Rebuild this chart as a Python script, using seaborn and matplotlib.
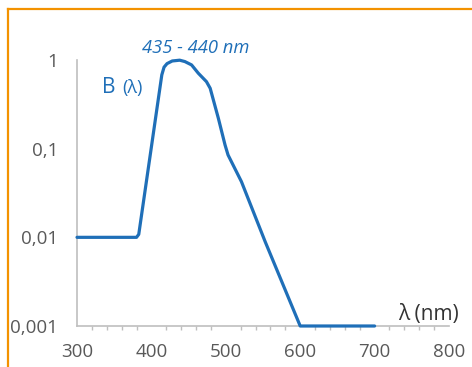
import matplotlib
matplotlib.use("Agg")
import matplotlib.pyplot as plt
from matplotlib.lines import Line2D
from matplotlib.ticker import FixedLocator, MultipleLocator, NullLocator
import seaborn as sns
import pandas as pd

# Data (wavelength in nm, relative blue-light hazard B(λ))
wavelength = [300, 380, 383, 414, 417, 421, 428, 438, 445, 454, 463, 474, 479,
              490, 499, 503, 521, 553, 600, 700]
b_lambda = [0.01, 0.01, 0.0108, 0.68, 0.83, 0.91, 0.975, 0.995, 0.96, 0.88, 0.71,
            0.57, 0.48, 0.22, 0.11, 0.085, 0.0425, 0.0089, 0.001, 0.001]

x_ticks = [300, 400, 500, 600, 700, 800]
y_ticks = [1, 0.1, 0.01, 0.001]
y_tick_labels = ["1", "0,1", "0,01", "0,001"]

peak_label = "435 - 440 nm"
series_label = "B"
series_arg = "(λ)"
x_label = "λ (nm)"

line_color = "#1F6FB8"
axis_color = "#BFBFBF"
tick_text = "#595959"
border_color = "#F39200"

sns.set_theme(style="white")
plt.rcParams["font.family"] = ["Open Sans", "DejaVu Sans"]

df = pd.DataFrame({"wavelength": wavelength, "B": b_lambda})

fig = plt.figure(figsize=(4.72, 3.67), dpi=100)
ax = fig.add_axes([77 / 472, 1 - 326 / 367, (449 - 77) / 472, (326 - 60) / 367])

sns.lineplot(data=df, x="wavelength", y="B", ax=ax, color=line_color,
             linewidth=2.3, clip_on=False, zorder=5)
ax.lines[0].set_solid_joinstyle("round")

ax.set_yscale("log")
ax.set_xlim(300, 800)
ax.set_ylim(0.001, 1)

ax.xaxis.set_major_locator(FixedLocator(x_ticks))
ax.xaxis.set_minor_locator(MultipleLocator(20))
ax.set_xticklabels([str(t) for t in x_ticks])
ax.yaxis.set_major_locator(FixedLocator(y_ticks))
ax.yaxis.set_minor_locator(NullLocator())
ax.set_yticklabels(y_tick_labels)

ax.set_xlabel("")
ax.set_ylabel("")

for side in ["top", "right"]:
    ax.spines[side].set_visible(False)
for side in ["left", "bottom"]:
    ax.spines[side].set_color(axis_color)
    ax.spines[side].set_linewidth(1.2)

ax.tick_params(axis="both", which="major", direction="out", length=4.5, width=1.1,
               color=axis_color, labelcolor=tick_text, labelsize=13.5)
ax.tick_params(axis="x", which="major", pad=8)
ax.tick_params(axis="y", which="major", pad=9)
ax.tick_params(axis="x", which="minor", direction="out", length=3, width=1.0,
               color=axis_color, bottom=True)

ax.text(459, 1.365, peak_label, color=line_color, fontsize=13.2, style="italic",
        ha="center", va="center", clip_on=False)
ax.text(333, 0.425, series_label, color=line_color, fontsize=15,
        ha="left", va="baseline")
ax.text(361, 0.425, series_arg, color=line_color, fontsize=13,
        ha="left", va="baseline")
ax.text(732, 0.00117, x_label, color="#333333", fontsize=15,
        ha="left", va="baseline", clip_on=False)

# orange frame (top and left)
fig.add_artist(Line2D([7.8 / 472, 1.0], [1 - 9.3 / 367, 1 - 9.3 / 367],
                      transform=fig.transFigure, color=border_color, linewidth=1.6,
                      solid_capstyle="projecting"))
fig.add_artist(Line2D([7.8 / 472, 7.8 / 472], [1 - 9.3 / 367, 0.0],
                      transform=fig.transFigure, color=border_color, linewidth=1.6,
                      solid_capstyle="projecting"))

fig.savefig("out.png", dpi=100, facecolor="white")
